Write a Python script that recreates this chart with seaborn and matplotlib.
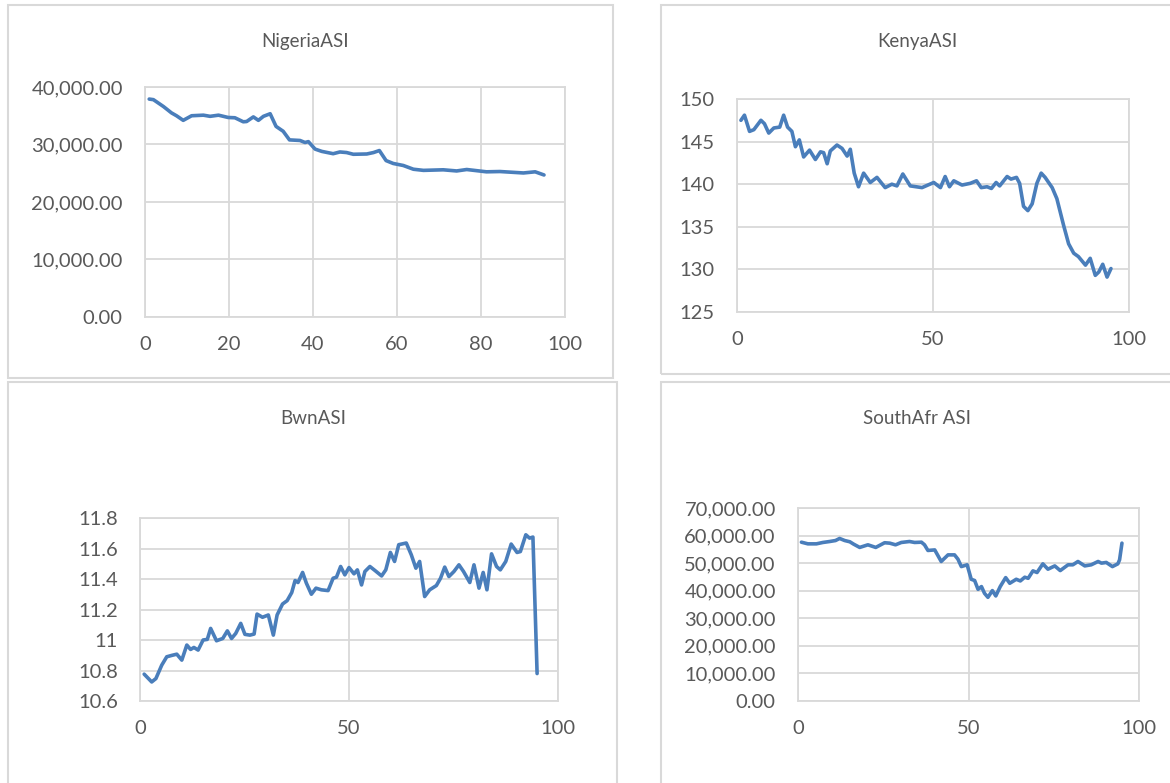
import matplotlib
matplotlib.use("Agg")
import matplotlib.pyplot as plt
import numpy as np
import pandas as pd
import seaborn as sns
from matplotlib.patches import Rectangle
from matplotlib.ticker import FuncFormatter

# --- données ---
nigeria_x = [1, 2, 4.4, 6.3, 7.5, 9.1, 11.1, 13.9, 15.5, 17.5, 19.8, 21.4, 23.4, 24.2, 25.8,
             27, 28.2, 29.8, 31.2, 32.9, 34.4, 36.9, 38.1, 38.9, 40.5, 42.1, 44.8, 46.4, 48,
             49.6, 52.8, 54.4, 55.8, 57.4, 59.1, 61.5, 63.9, 66.3, 71, 74.2, 76.6, 81.3, 84.5,
             90.1, 92.9, 95]
nigeria_y = [37900, 37800, 36600, 35500, 35000, 34200, 35000, 35100, 34900, 35100, 34700, 34650,
             33950, 34000, 34800, 34200, 34900, 35350, 33150, 32300, 30800, 30700, 30350, 30500,
             29200, 28800, 28400, 28700, 28600, 28300, 28350, 28600, 28950, 27200, 26700, 26350,
             25700, 25500, 25600, 25400, 25650, 25250, 25300, 25050, 25250, 24700]

kenya_x = [1, 1.9, 3.2, 4.3, 6.1, 7, 8.1, 9.4, 10.9, 11.9, 12.9, 14, 14.9, 15.9, 17, 18.5, 20,
           21.3, 22.1, 23, 23.8, 25.5, 26.8, 28.1, 28.9, 29.9, 31, 32.3, 34, 35.7, 37.8, 39.5,
           40.8, 42.3, 44.2, 47.2, 50.2, 51.9, 53.1, 54.2, 55.3, 57.4, 59.5, 61.1, 62.3, 63.8,
           64.9, 66.1, 67, 68.9, 69.9, 71.3, 72.1, 73.1, 74.2, 75.3, 76.5, 77.6, 78.6, 80.4,
           81.6, 83.3, 84.6, 85.9, 87.1, 88.9, 90.1, 91.4, 92.3, 93.3, 94.4, 95.4]
kenya_y = [147.5, 148.1, 146.2, 146.4, 147.5, 147.1, 146.0, 146.6, 146.7, 148.1, 146.7, 146.2,
           144.4, 145.2, 143.2, 144.0, 142.9, 143.8, 143.7, 142.4, 143.9, 144.6, 144.2, 143.3,
           144.1, 141.3, 139.7, 141.3, 140.2, 140.8, 139.6, 140.0, 139.8, 141.2, 139.8, 139.6,
           140.2, 139.6, 140.9, 139.7, 140.4, 139.9, 140.1, 140.4, 139.6, 139.7, 139.5, 140.2,
           139.8, 140.9, 140.6, 140.8, 140.1, 137.4, 136.9, 137.7, 140.1, 141.3, 140.8, 139.6,
           138.3, 135.2, 133.0, 131.9, 131.5, 130.5, 131.3, 129.3, 129.7, 130.6, 129.1, 130.1]

bwn_x = [1, 2.8, 3.8, 5.2, 6.4, 7.6, 8.8, 10, 11.2, 12.1, 12.9, 13.9, 15.1, 16.1, 16.9, 18.3,
         19.8, 20.9, 21.9, 22.9, 24.1, 25.1, 26.3, 27.3, 28, 29.3, 30.7, 31.9, 32.8, 34.1, 35.2,
         36.3, 37.1, 37.8, 38.9, 39.8, 41, 42.1, 43.4, 45, 46.2, 47, 48, 49, 50, 51.2, 52, 53,
         53.8, 55, 56.2, 57.8, 58.8, 59.9, 60.9, 61.9, 63.7, 64.9, 66, 66.9, 68.1, 69.3, 70.9,
         71.9, 72.9, 73.9, 75.1, 76.3, 77.4, 78.9, 79.9, 81.1, 82.1, 83, 84.1, 85.3, 86.2, 87.5,
         88.8, 90.2, 91, 92.3, 93.2, 94, 95]
bwn_y = [10.776, 10.725, 10.747, 10.835, 10.89, 10.899, 10.907, 10.868, 10.967, 10.938, 10.951,
         10.934, 11.0, 11.004, 11.076, 10.995, 11.01, 11.06, 11.01, 11.043, 11.109, 11.037,
         11.032, 11.039, 11.17, 11.149, 11.164, 11.032, 11.164, 11.236, 11.258, 11.311, 11.39,
         11.377, 11.443, 11.373, 11.30, 11.34, 11.329, 11.324, 11.405, 11.412, 11.482, 11.427,
         11.475, 11.434, 11.46, 11.361, 11.449, 11.482, 11.456, 11.42, 11.46, 11.574, 11.515,
         11.625, 11.636, 11.559, 11.471, 11.515, 11.285, 11.329, 11.357, 11.405, 11.478, 11.416,
         11.449, 11.493, 11.449, 11.377, 11.493, 11.34, 11.443, 11.329, 11.565, 11.482, 11.46,
         11.515, 11.629, 11.574, 11.58, 11.69, 11.668, 11.675, 10.78]

safr_x = [1, 2.9, 5.4, 7.3, 9.3, 11, 12.2, 13.7, 15.2, 16.3, 18.1, 20.5, 22.8, 25.4, 26.9, 28.6,
          30.3, 32.7, 34.2, 36.2, 37.1, 38.1, 40.1, 42, 44, 45.9, 46.9, 47.9, 49.6, 50.8, 51.8,
          52.8, 53.8, 54.7, 55.7, 57, 58, 59.3, 60.9, 62.1, 64, 65.2, 66.5, 67.5, 68.9, 70.1,
          71.8, 73.3, 75.3, 76.9, 79.2, 80.6, 82.1, 84.1, 86, 88, 89, 90.4, 92.2, 93.8, 94.3, 95]
safr_y = [57600, 57000, 57000, 57500, 57850, 58200, 58950, 58200, 57750, 56900, 55700, 56650,
          55700, 57400, 57250, 56650, 57500, 57850, 57500, 57600, 56650, 54600, 54800, 50600,
          53000, 53000, 51450, 48750, 49400, 44150, 43700, 40500, 41500, 39050, 37600, 40050,
          38100, 41500, 44750, 42700, 44150, 43550, 44900, 44500, 47200, 46600, 49750, 47800,
          49000, 47300, 49400, 49400, 50600, 49000, 49400, 50600, 50000, 50250, 48750, 49750,
          51200, 57250]

titles = ["NigeriaASI", "KenyaASI", "BwnASI", "SouthAfr ASI"]

LINE = "#4a7ebb"
GRID = "#d9d9d9"
TXT = "#595959"
W, H = 1170, 783

sns.set_theme(style="whitegrid")
plt.rcParams["font.family"] = ["Lato", "DejaVu Sans"]

fig = plt.figure(figsize=(W / 100, H / 100), dpi=100)
fig.patch.set_facecolor("white")


def px_axes(x0, x1, y0, y1):
    # coordonnées pixel (origine en haut à gauche) -> fraction de figure
    return fig.add_axes([x0 / W, 1 - y1 / H, (x1 - x0) / W, (y1 - y0) / H])


def frame(x0, x1, y0, y1):
    fig.patches.append(Rectangle((x0 / W, 1 - y1 / H), (x1 - x0) / W, (y1 - y0) / H,
                                 transform=fig.transFigure, fill=False,
                                 edgecolor=GRID, linewidth=1.5, zorder=0))


def panel(ax, x, y, title, xticks, yticks, fmt, title_xy):
    df = pd.DataFrame({"x": x, "y": y})
    sns.lineplot(data=df, x="x", y="y", ax=ax, color=LINE, linewidth=2.6, sort=False)
    ax.set_xlim(0, 100)
    ax.set_ylim(yticks[0], yticks[-1])
    ax.set_xticks(xticks)
    ax.set_yticks(yticks)
    ax.yaxis.set_major_formatter(FuncFormatter(fmt))
    ax.set_xlabel("")
    ax.set_ylabel("")
    ax.grid(True, color=GRID, linewidth=1.3)
    for s in ax.spines.values():
        s.set_visible(True)
        s.set_color(GRID)
        s.set_linewidth(1.3)
    ax.tick_params(length=0, labelsize=14.5, colors=TXT, pad=16)
    ax.tick_params(axis="x", pad=14)
    ax.set_facecolor("white")
    fig.text(title_xy[0] / W, 1 - title_xy[1] / H, title, ha="center", va="center",
             fontsize=13.5, color=TXT)


money = lambda v, p: f"{v:,.2f}"
general = lambda v, p: f"{v:g}"

frame(8, 613, 5, 378)
frame(661, 1180, 5, 374)
frame(8, 617, 382, 800)
frame(661, 1180, 382, 800)

ax1 = px_axes(145, 565, 87, 317)
panel(ax1, nigeria_x, nigeria_y, titles[0], [0, 20, 40, 60, 80, 100],
      [0, 10000, 20000, 30000, 40000], money, (305, 42))

ax2 = px_axes(737, 1129, 99, 312)
panel(ax2, kenya_x, kenya_y, titles[1], [0, 50, 100],
      [125, 130, 135, 140, 145, 150], general, (917, 42))

ax3 = px_axes(140, 558, 518, 701)
panel(ax3, bwn_x, bwn_y, titles[2], [0, 50, 100],
      [10.6, 10.8, 11.0, 11.2, 11.4, 11.6, 11.8], general, (313, 418))

ax4 = px_axes(798, 1139, 508, 701)
panel(ax4, safr_x, safr_y, titles[3], [0, 50, 100],
      [0, 10000, 20000, 30000, 40000, 50000, 60000, 70000], money, (917, 418))

fig.savefig("out.png", dpi=100)
